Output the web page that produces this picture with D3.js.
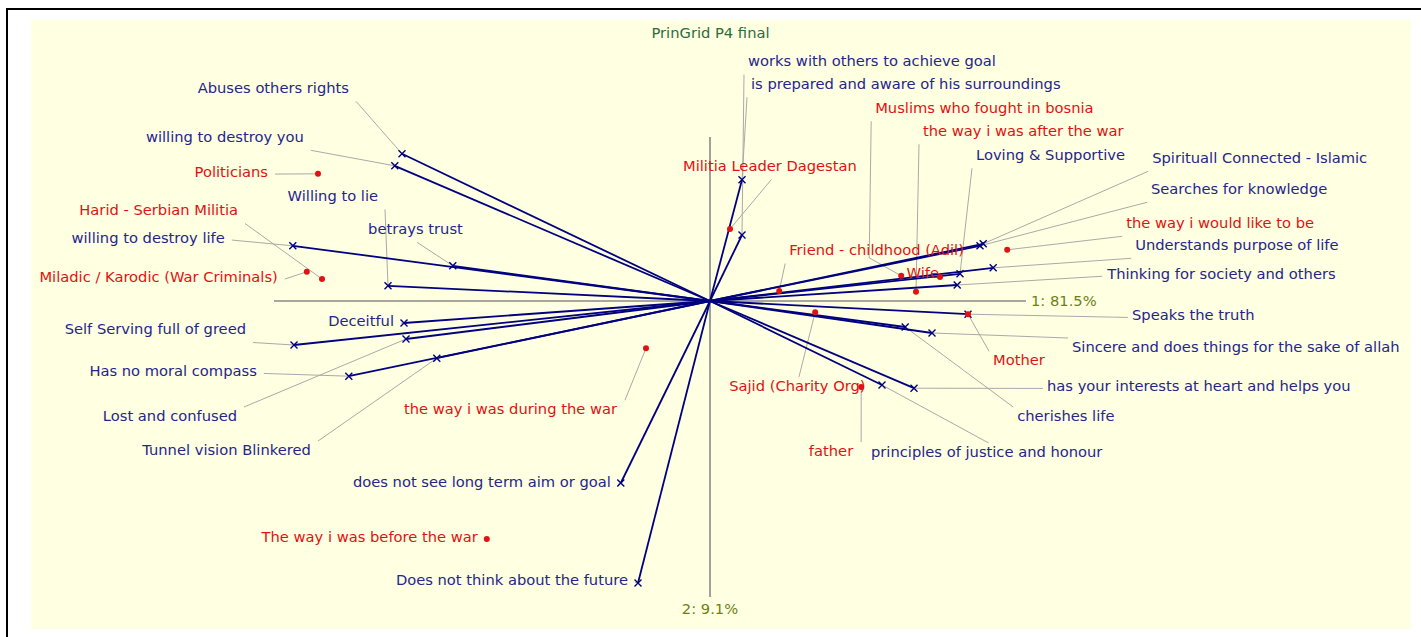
<!DOCTYPE html>
<html>
<head>
<meta charset="utf-8">
<script src="https://cdn.jsdelivr.net/npm/d3@7"></script>
<style>
  body { margin: 0; background: #fff; }
  text { font-family: "DejaVu Sans", sans-serif; font-size: 14.7px; }
</style>
</head>
<body>
<svg id="chart" width="1421" height="637"></svg>
<script>
'use strict'

var title = "PrinGrid P4 final";
var variance = [81.5, 9.1];
var axis1Range = [-1.09, 0.79];
var axis2Range = [-0.74, 0.41];

var constructNames = [
  "Abuses others rights", "willing to destroy you", "willing to destroy life", "betrays trust",
  "Willing to lie", "Deceitful", "Self Serving full of greed", "Lost and confused",
  "Has no moral compass", "Tunnel vision Blinkered", "does not see long term aim or goal",
  "Does not think about the future", "works with others to achieve goal",
  "is prepared and aware of his surroundings", "Spirituall Connected - Islamic",
  "Searches for knowledge", "Understands purpose of life", "Thinking for society and others",
  "Loving & Supportive", "Speaks the truth", "cherishes life",
  "Sincere and does things for the sake of allah", "principles of justice and honour",
  "has your interests at heart and helps you"
];
var constructX = [-0.770, -0.788, -1.043, -0.643, -0.805, -0.765, -1.040, -0.760, -0.903, -0.683,
  -0.223, -0.180, 0.080, 0.080, 0.683, 0.675, 0.708, 0.618, 0.625, 0.645, 0.488, 0.555, 0.430, 0.510];
var constructY = [0.368, 0.338, 0.138, 0.088, 0.038, -0.055, -0.110, -0.095, -0.188, -0.143,
  -0.455, -0.705, 0.165, 0.303, 0.143, 0.138, 0.083, 0.040, 0.068, -0.033, -0.065, -0.080, -0.210, -0.218];

var elementNames = [
  "Politicians", "Harid - Serbian Militia", "Miladic / Karodic (War Criminals)",
  "Militia Leader Dagestan", "Friend - childhood (Adil)", "Wife", "Muslims who fought in bosnia",
  "the way i was after the war", "the way i would like to be", "Mother", "Sajid (Charity Org)",
  "father", "the way i was during the war", "The way i was before the war"
];
var elementX = [-0.980, -0.970, -1.008, 0.050, 0.173, 0.575, 0.478, 0.515, 0.743, 0.645, 0.263, 0.378, -0.160, -0.558];
var elementY = [0.318, 0.055, 0.073, 0.180, 0.025, 0.060, 0.063, 0.023, 0.128, -0.033, -0.028, -0.215, -0.118, -0.595];

// label placement: [anchor, dx, dy] in pixels from the point (dy = text middle)
var constructLabelPos = [
  ["end", -53, -66], ["end", -91, -29], ["end", -68, -8], ["end", 10, -37],
  ["end", -10, -90], ["end", -10, -2], ["end", -48, -16], ["end", -169, 77],
  ["end", -92, -5], ["end", -126, 92], ["end", -10, -1], ["end", -10, -3],
  ["start", 6, -174], ["start", 9, -96], ["start", 169, -86], ["start", 171, -57],
  ["start", 142, -23], ["start", 150, -11], ["start", 16, -119], ["start", 164, 1],
  ["start", 112, 89], ["start", 140, 14], ["start", -11, 67], ["start", 133, -2]
];
var elementLabelPos = [
  ["end", -50, -2], ["end", -84, -69], ["end", -29, 5], ["start", -47, -63],
  ["start", 10, -41], ["end", -1, -4], ["start", -26, -168], ["start", 7, -161],
  ["start", 119, -27], ["start", 25, 46], ["start", -86, 74], ["end", -8, 64],
  ["end", -29, 61], ["end", -9, -2]
];
// bend in a leader line, pixels from the point
var elementLeaderVia = { 6: [-32, -18] };

var svg = d3.select("#chart"),
  width = +svg.attr("width"),
  height = +svg.attr("height");

var x = d3.scaleLinear().domain([-1, 1]).range([310, 1110]),
  y = d3.scaleLinear().domain([-1, 1]).range([701, -99]);

var navy = "#000080",
  constructColor = "#25258c",
  elementColor = "#e01212",
  leaderColor = "#a9a9a9";

// frame and panel
svg.append("rect")
  .attr("x", 7).attr("y", 9)
  .attr("width", width + 20).attr("height", height + 20)
  .attr("fill", "#fff").attr("stroke", "#000").attr("stroke-width", 2);
svg.append("rect")
  .attr("x", 31).attr("y", 20)
  .attr("width", 1380).attr("height", 609)
  .attr("fill", "#ffffe1");

svg.append("text")
  .attr("x", width / 2).attr("y", 33)
  .attr("dy", "0.35em")
  .attr("text-anchor", "middle")
  .attr("fill", "#2e6b3e")
  .text(title);

// principal axes
var axes = svg.append("g").attr("class", "axes");
axes.append("line")
  .attr("x1", x(axis1Range[0])).attr("x2", x(axis1Range[1]))
  .attr("y1", y(0)).attr("y2", y(0))
  .attr("stroke", "#8a8a8a").attr("stroke-width", 1.6);
axes.append("line")
  .attr("x1", x(0)).attr("x2", x(0))
  .attr("y1", y(axis2Range[1])).attr("y2", y(axis2Range[0]))
  .attr("stroke", "#8a8a8a").attr("stroke-width", 1.6);
axes.append("text")
  .attr("x", x(axis1Range[1]) + 5).attr("y", y(0))
  .attr("dy", "0.35em")
  .attr("fill", "#6f7f18")
  .text("1: " + variance[0] + "%");
axes.append("text")
  .attr("x", x(0)).attr("y", y(axis2Range[0]) + 12)
  .attr("dy", "0.35em")
  .attr("text-anchor", "middle")
  .attr("fill", "#6f7f18")
  .text("2: " + variance[1] + "%");

var constructs = constructNames.map(function(n, i) {
  return { name: n, x: constructX[i], y: constructY[i], pos: constructLabelPos[i], kind: "c" };
});
var elements = elementNames.map(function(n, i) {
  return { name: n, x: elementX[i], y: elementY[i], pos: elementLabelPos[i], kind: "e", via: elementLeaderVia[i] };
});
var all = constructs.concat(elements);

var leaderG = svg.append("g").attr("class", "leaders");
var lineG = svg.append("g").attr("class", "construct-lines");
var markG = svg.append("g").attr("class", "marks");
var labelG = svg.append("g").attr("class", "labels");

lineG.selectAll("line")
  .data(constructs)
  .enter()
  .append("line")
  .attr("x1", x(0)).attr("y1", y(0))
  .attr("x2", function(d) { return x(d.x); })
  .attr("y2", function(d) { return y(d.y); })
  .attr("stroke", navy)
  .attr("stroke-width", 1.8);

var cross = markG.selectAll("g.cross")
  .data(constructs)
  .enter()
  .append("g")
  .attr("class", "cross")
  .attr("transform", function(d) { return "translate(" + x(d.x) + "," + y(d.y) + ")"; });
cross.append("path")
  .attr("d", "M-3.5,-3.5L3.5,3.5M-3.5,3.5L3.5,-3.5")
  .attr("stroke", navy)
  .attr("stroke-width", 1.4);

markG.selectAll("circle")
  .data(elements)
  .enter()
  .append("circle")
  .attr("cx", function(d) { return x(d.x); })
  .attr("cy", function(d) { return y(d.y); })
  .attr("r", 3)
  .attr("fill", elementColor);

var labels = labelG.selectAll("text")
  .data(all)
  .enter()
  .append("text")
  .attr("x", function(d) { return x(d.x) + d.pos[1]; })
  .attr("y", function(d) { return y(d.y) + d.pos[2]; })
  .attr("dy", "0.35em")
  .attr("text-anchor", function(d) { return d.pos[0]; })
  .attr("fill", function(d) { return d.kind === "c" ? constructColor : elementColor; })
  .text(function(d) { return d.name; });

// leader lines from the nearest side of each label box to its point
labels.each(function(d) {
  var bb = this.getBBox();
  var cy = y(d.y) + d.pos[2];
  var box = { l: bb.x - 4, r: bb.x + bb.width + 7, t: cy - 9, b: cy + 13.5 };
  var px = x(d.x), py = y(d.y);
  var tx = px, ty = py;
  if (d.via) { tx = px + d.via[0]; ty = py + d.via[1]; }
  var ax = tx < box.l ? box.l : (tx > box.r ? box.r : (box.l + box.r) / 2);
  var ay = ty < box.t ? box.t : (ty > box.b ? box.b : (box.t + box.b) / 2);
  if (tx >= box.l && tx <= box.r && ty >= box.t && ty <= box.b) return;
  var pts = [[ax, ay]];
  if (d.via) pts.push([tx, ty]);
  pts.push([px, py]);
  leaderG.append("path")
    .attr("d", d3.line()(pts))
    .attr("fill", "none")
    .attr("stroke", leaderColor)
    .attr("stroke-width", 1);
});
</script>
</body>
</html>
